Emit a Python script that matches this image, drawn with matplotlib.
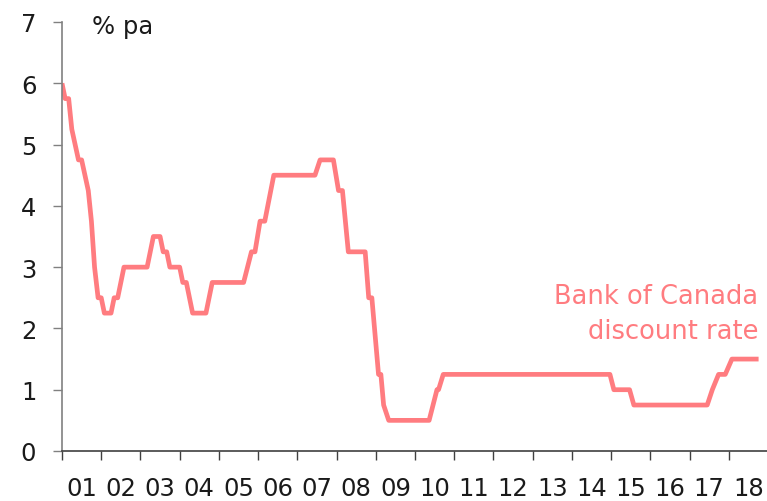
import matplotlib
matplotlib.use("Agg")
import matplotlib.pyplot as plt
from matplotlib.ticker import FixedLocator, NullFormatter, FixedFormatter

# Vertices of the Bank of Canada discount rate line
# (time as decimal year, rate in % pa)
years = [2001.00, 2001.08, 2001.17, 2001.25, 2001.42, 2001.50, 2001.67,
         2001.75, 2001.83, 2001.92, 2002.00, 2002.08, 2002.25, 2002.33,
         2002.42, 2002.58, 2003.17, 2003.33, 2003.50, 2003.58, 2003.67,
         2003.75, 2004.00, 2004.08, 2004.17, 2004.33, 2004.67, 2004.83,
         2005.63, 2005.83, 2005.92, 2006.05, 2006.17, 2006.40, 2007.45,
         2007.58, 2007.92, 2008.05, 2008.15, 2008.30, 2008.73, 2008.82,
         2008.90, 2009.07, 2009.13, 2009.20, 2009.33, 2010.36, 2010.56,
         2010.60, 2010.72, 2014.97, 2015.07, 2015.47, 2015.58, 2017.45,
         2017.58, 2017.74, 2017.91, 2018.08, 2018.76]
rate = [6.00, 5.75, 5.75, 5.25, 4.75, 4.75, 4.25,
        3.75, 3.00, 2.50, 2.50, 2.25, 2.25, 2.50,
        2.50, 3.00, 3.00, 3.50, 3.50, 3.25, 3.25,
        3.00, 3.00, 2.75, 2.75, 2.25, 2.25, 2.75,
        2.75, 3.25, 3.25, 3.75, 3.75, 4.50, 4.50,
        4.75, 4.75, 4.25, 4.25, 3.25, 3.25, 2.50,
        2.50, 1.25, 1.25, 0.75, 0.50, 0.50, 1.00,
        1.00, 1.25, 1.25, 1.00, 1.00, 0.75, 0.75,
        1.00, 1.25, 1.25, 1.50, 1.50]

year_labels = ["01", "02", "03", "04", "05", "06", "07", "08", "09",
               "10", "11", "12", "13", "14", "15", "16", "17", "18"]
y_ticks = [0, 1, 2, 3, 4, 5, 6, 7]

line_color = "#FF7C80"
font = "DejaVu Sans"
fs = 17.5

fig = plt.figure(figsize=(7.67, 5.02), dpi=100)
ax = fig.add_axes([62 / 767, 50 / 502, 706 / 767, 429 / 502])

ax.plot(years, rate, color=line_color, lw=3.4, solid_joinstyle="round",
        solid_capstyle="butt")

ax.set_xlim(2001, 2019)
ax.set_ylim(0, 7)

ax.xaxis.set_major_locator(FixedLocator(list(range(2001, 2020))))
ax.xaxis.set_major_formatter(NullFormatter())
ax.xaxis.set_minor_locator(FixedLocator([2001.5 + i for i in range(len(year_labels))]))
ax.xaxis.set_minor_formatter(FixedFormatter(year_labels))
ax.tick_params(axis="x", which="major", direction="out", length=6.5, width=1,
               color="#404040")
ax.tick_params(axis="x", which="minor", length=0, pad=18, labelsize=fs)
ax.set_yticks(y_ticks)
ax.tick_params(axis="y", direction="out", length=6.5, width=1, color="#808080",
               pad=12, labelsize=fs)

for lbl in ax.get_xticklabels(minor=True) + ax.get_yticklabels():
    lbl.set_fontfamily(font)
    lbl.set_color("#1a1a1a")

for s in ("top", "right"):
    ax.spines[s].set_visible(False)
ax.spines["left"].set_color("#808080")
ax.spines["left"].set_linewidth(1.2)
ax.spines["bottom"].set_color("#404040")
ax.spines["bottom"].set_linewidth(1.2)

ax.text(2001.77, 6.93, "% pa", fontsize=fs, family=font, color="#1a1a1a",
        ha="left", va="center")
ax.text(2018.76, 2.25, "Bank of Canada\ndiscount rate", fontsize=18.5,
        family=font, color=line_color, ha="right", va="center",
        multialignment="right", linespacing=1.45)

fig.savefig("out.png", dpi=100)
